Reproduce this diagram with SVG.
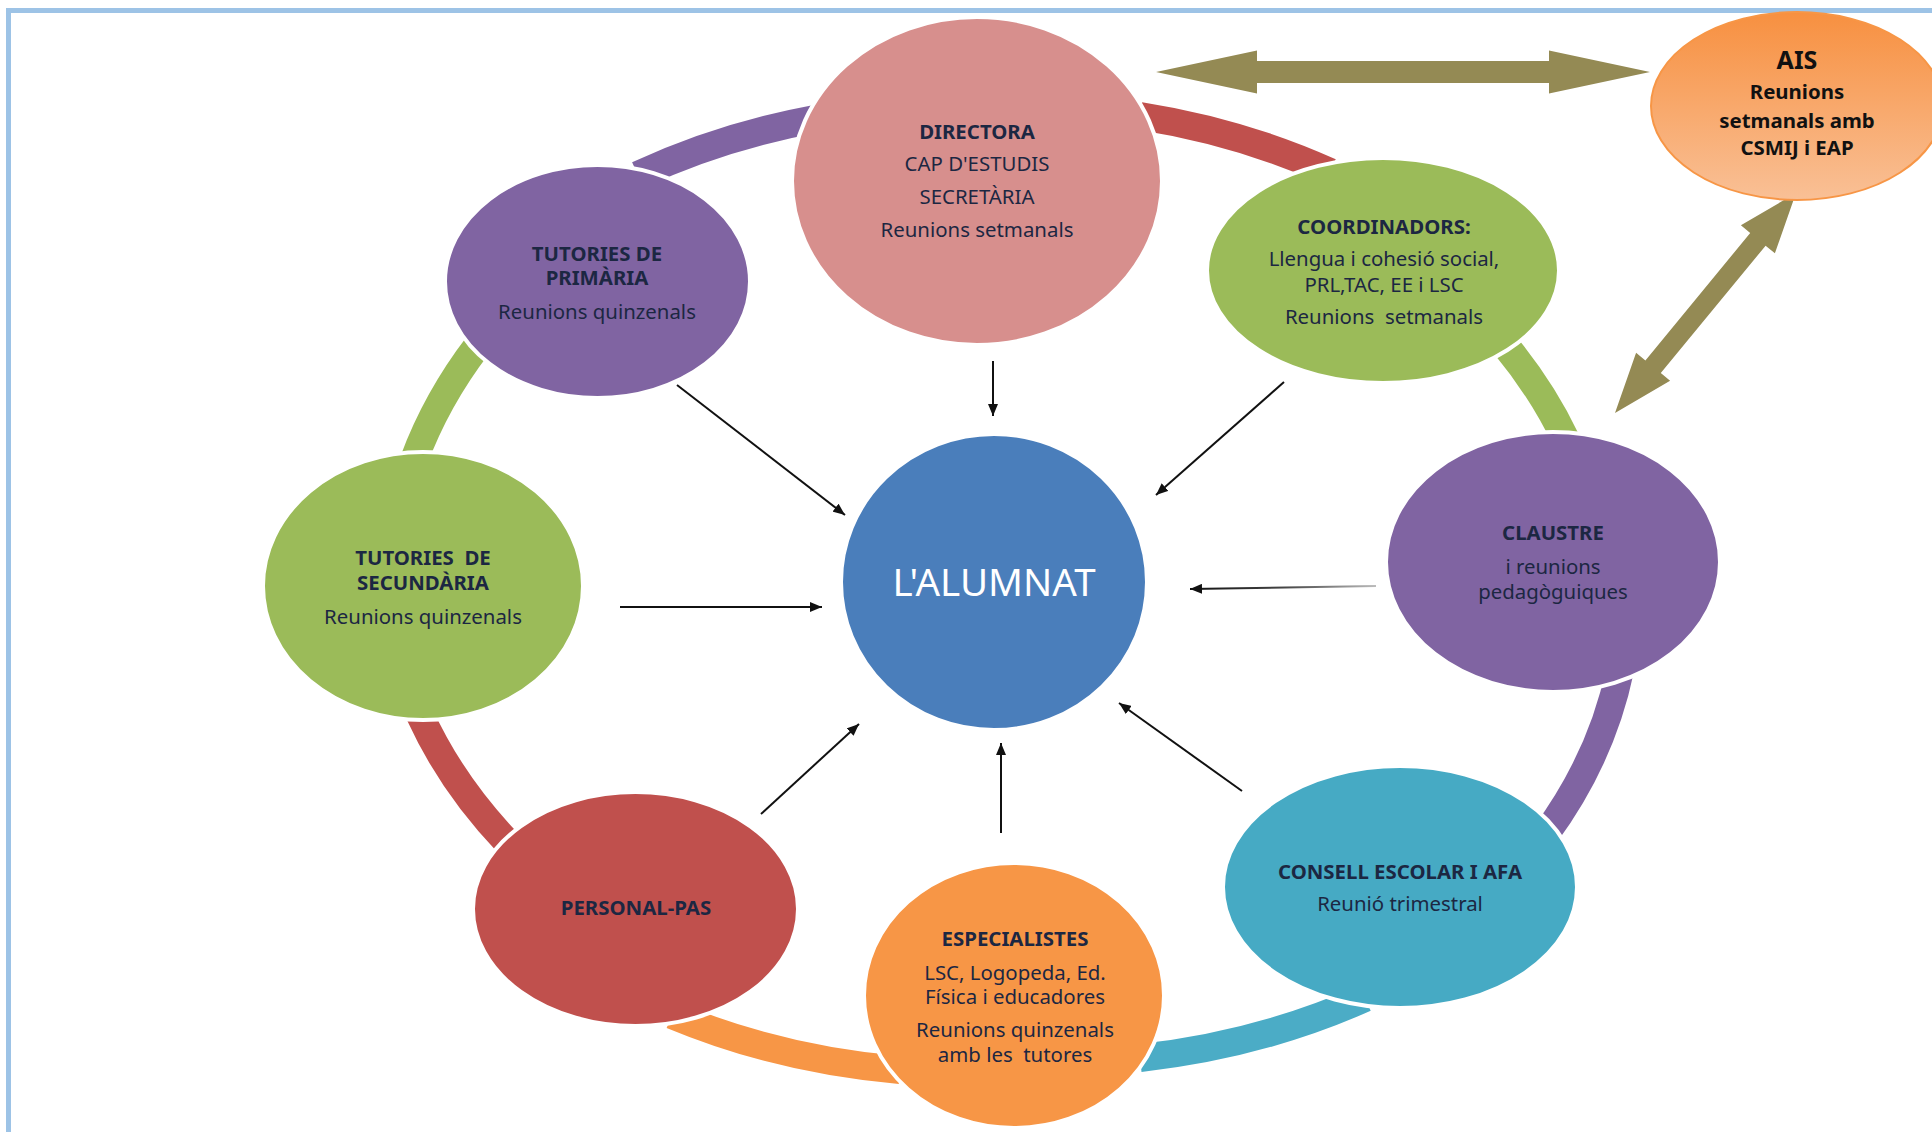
<svg xmlns="http://www.w3.org/2000/svg" width="1932" height="1132" viewBox="0 0 1932 1132">
<style>
.t{font-family:"Noto Sans","Open Sans","DejaVu Sans",sans-serif;font-size:20.4px;fill:#1C2742;text-anchor:middle}
.b{font-weight:bold}
.k{fill:#111}
.band{fill:none;stroke-width:28;stroke-linecap:butt}
.node{stroke:#fff;stroke-width:4}
.ar{stroke:#111;stroke-width:2;fill:none;marker-end:url(#ah)}
.big{fill:#948A54}
</style>
<defs>
<marker id="ah" markerUnits="userSpaceOnUse" markerWidth="14" markerHeight="10" refX="12" refY="5" orient="auto">
<path d="M0,0 L12,5 L0,10 Z" fill="#111"/>
</marker>
<linearGradient id="aisg" x1="0" y1="0" x2="0" y2="1">
<stop offset="0" stop-color="#F79040"/>
<stop offset="1" stop-color="#F9C096"/>
</linearGradient>
<linearGradient id="clg" gradientUnits="userSpaceOnUse" x1="1190" y1="0" x2="1376" y2="0">
<stop offset="0" stop-color="#111"/>
<stop offset="0.5" stop-color="#444"/>
<stop offset="1" stop-color="#bbb"/>
</linearGradient>
</defs>
<rect width="1932" height="1132" fill="#fff"/>
<path d="M8.5,1132 V10.5 H1932" fill="none" stroke="#9DC3E6" stroke-width="5"/>

<g id="ring">
<path class="band" stroke="#8064A2" d="M638,175 A630,490 0 0 1 815,119"/>
<path class="band" stroke="#C0504D" d="M1140,116 A630,490 0 0 1 1330,172"/>
<path class="band" stroke="#9BBB59" d="M1505,345 A630,490 0 0 1 1566,440"/>
<path class="band" stroke="#8064A2" d="M1620,670 A630,490 0 0 1 1545,835"/>
<path class="band" stroke="#4BACC6" d="M1365,998 A630,490 0 0 1 1140,1058"/>
<path class="band" stroke="#F79646" d="M900,1070 A630,490 0 0 1 672,1015"/>
<path class="band" stroke="#C0504D" d="M508,843 A630,490 0 0 1 420,715"/>
<path class="band" stroke="#9BBB59" d="M414,460 A630,490 0 0 1 478,345"/>
</g>

<g id="connectors">
<line class="ar" x1="993" y1="361" x2="993" y2="416"/>
<line class="ar" x1="677" y1="385" x2="845" y2="515"/>
<line class="ar" x1="1284" y1="382" x2="1156" y2="495"/>
<line class="ar" x1="620" y1="607" x2="822" y2="607"/>
<line class="ar" x1="1376" y1="586" x2="1190" y2="589" style="stroke:url(#clg)"/>
<line class="ar" x1="761" y1="814" x2="859" y2="724"/>
<line class="ar" x1="1001" y1="833" x2="1001" y2="743"/>
<line class="ar" x1="1242" y1="791" x2="1119" y2="703"/>
<polygon class="big" points="1156,72 1257,50.5 1257,61 1549,61 1549,50.5 1650,72 1549,93.5 1549,83 1257,83 1257,93.5"/>
<polygon class="big" points="1796,193 1774.9,253.3 1765.6,245.7 1660.8,373.1 1670.1,380.7 1615,413 1636.1,352.7 1645.4,360.4 1750.2,233 1740.9,225.3"/>
</g>

<g id="directora">
<ellipse class="node" cx="977" cy="181" rx="185" ry="164" fill="#D78F8D"/>
<text class="t b" x="977" y="139">DIRECTORA</text>
<text class="t" x="977" y="171">CAP D'ESTUDIS</text>
<text class="t" x="977" y="204">SECRETÀRIA</text>
<text class="t" x="977" y="237">Reunions setmanals</text>
</g>

<g id="primaria">
<ellipse class="node" cx="597.5" cy="281.5" rx="152.5" ry="116.5" fill="#8064A2"/>
<text class="t b" x="597" y="261">TUTORIES DE</text>
<text class="t b" x="597" y="285">PRIMÀRIA</text>
<text class="t" x="597" y="319">Reunions quinzenals</text>
</g>

<g id="coordinadors">
<ellipse class="node" cx="1383" cy="270.5" rx="176" ry="112.5" fill="#9BBB59"/>
<text class="t b" x="1384" y="234">COORDINADORS:</text>
<text class="t" x="1384" y="266">Llengua i cohesió social,</text>
<text class="t" x="1384" y="292">PRL,TAC, EE i LSC</text>
<text class="t" x="1384" y="324" xml:space="preserve">Reunions  setmanals</text>
</g>

<g id="ais">
<ellipse cx="1797" cy="106" rx="146" ry="94" fill="url(#aisg)" stroke="#F79646" stroke-width="2"/>
<text class="t b k" x="1797" y="69" style="font-size:25px">AIS</text>
<text class="t b k" x="1797" y="99">Reunions</text>
<text class="t b k" x="1797" y="128">setmanals amb</text>
<text class="t b k" x="1797" y="155">CSMIJ i EAP</text>
</g>

<g id="secundaria">
<ellipse class="node" cx="423" cy="586" rx="160" ry="134" fill="#9BBB59"/>
<text class="t b" x="423" y="565" xml:space="preserve">TUTORIES  DE</text>
<text class="t b" x="423" y="590">SECUNDÀRIA</text>
<text class="t" x="423" y="624">Reunions quinzenals</text>
</g>

<g id="alumnat">
<ellipse class="node" cx="994" cy="582" rx="153" ry="148" fill="#4A7EBB"/>
<text class="t" x="994" y="596" style="font-size:38.5px;fill:#fff">L'ALUMNAT</text>
</g>

<g id="claustre">
<ellipse class="node" cx="1553" cy="562" rx="167" ry="130" fill="#8064A2"/>
<text class="t b" x="1553" y="540">CLAUSTRE</text>
<text class="t" x="1553" y="574">i reunions</text>
<text class="t" x="1553" y="599">pedagòguiques</text>
</g>

<g id="personal">
<ellipse class="node" cx="635.5" cy="909" rx="162.5" ry="117" fill="#C0504D"/>
<text class="t b" x="636" y="915">PERSONAL-PAS</text>
</g>

<g id="especialistes">
<ellipse class="node" cx="1014" cy="995.5" rx="150" ry="132.5" fill="#F79646"/>
<text class="t b" x="1015" y="946">ESPECIALISTES</text>
<text class="t" x="1015" y="980">LSC, Logopeda, Ed.</text>
<text class="t" x="1015" y="1004">Física i educadores</text>
<text class="t" x="1015" y="1037">Reunions quinzenals</text>
<text class="t" x="1015" y="1062" xml:space="preserve">amb les  tutores</text>
</g>

<g id="consell">
<ellipse class="node" cx="1400" cy="887" rx="177" ry="121" fill="#46AAC4"/>
<text class="t b" x="1400" y="879">CONSELL ESCOLAR I AFA</text>
<text class="t" x="1400" y="911">Reunió trimestral</text>
</g>
</svg>
